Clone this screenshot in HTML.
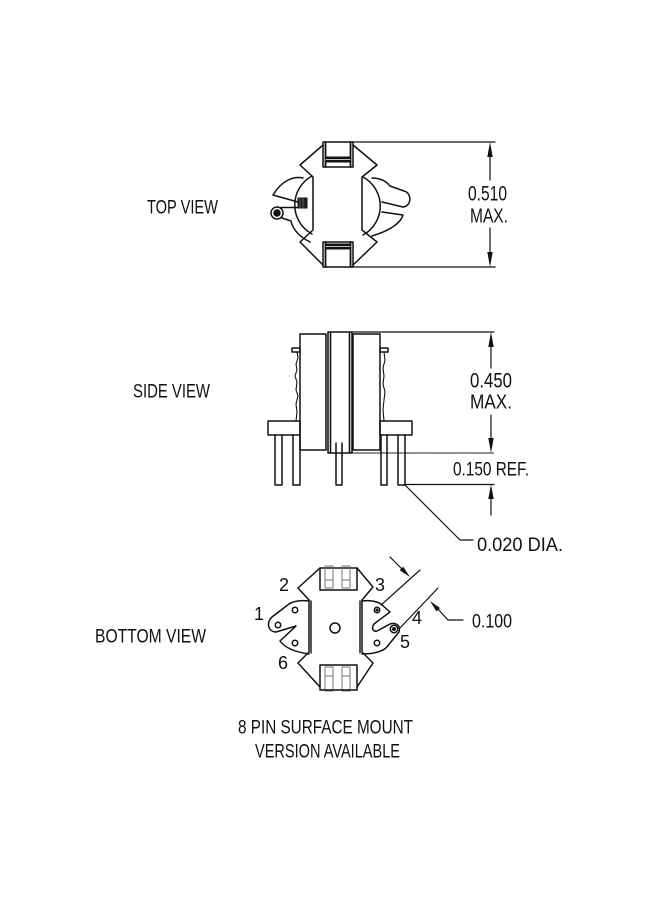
<!DOCTYPE html>
<html>
<head>
<meta charset="utf-8">
<style>
html,body{margin:0;padding:0;background:#fff;}
svg{display:block;}
text{font-family:"Liberation Sans",sans-serif;fill:#111;}
</style>
</head>
<body>
<svg width="650" height="900" viewBox="0 0 650 900" xmlns="http://www.w3.org/2000/svg">
<rect width="650" height="900" fill="#fff"/>
<g fill="none" stroke="#111" stroke-width="1.5" stroke-linejoin="round" stroke-linecap="round">

<!-- ================= TOP VIEW ================= -->
<path d="M323,145 L300,165 L313,177 L313,230 L300,242 L323,265"/>
<path d="M353,145 L377,165 L362,177 L362,230 L377,242 L353,265"/>
<rect x="323" y="142" width="30" height="25"/>
<line x1="325.5" y1="142" x2="325.5" y2="167" stroke-width="1.8"/>
<line x1="350.5" y1="142" x2="350.5" y2="167" stroke-width="1.8"/>
<rect x="325" y="156.5" width="26" height="6" fill="#111" stroke="none"/>
<line x1="326" y1="159.5" x2="350" y2="159.5" stroke="#fff" stroke-width="0.8"/>
<rect x="323" y="242" width="30" height="25"/>
<line x1="325.5" y1="242" x2="325.5" y2="267" stroke-width="1.8"/>
<line x1="350.5" y1="242" x2="350.5" y2="267" stroke-width="1.8"/>
<rect x="325" y="243.5" width="26" height="6" fill="#111" stroke="none"/>
<line x1="326" y1="246.5" x2="350" y2="246.5" stroke="#fff" stroke-width="0.8"/>
<!-- left ear -->
<path d="M312,176 A33,33 0 0 0 312,234"/>
<path d="M303,178 C294,176 282,180 273,195 L298,202"/>
<rect x="298" y="198" width="9" height="10" fill="#222" stroke-width="1"/>
<line x1="300" y1="198" x2="300" y2="208" stroke="#888" stroke-width="0.6"/>
<line x1="303" y1="198" x2="303" y2="208" stroke="#888" stroke-width="0.6"/>
<circle cx="277" cy="213" r="6"/>
<circle cx="277" cy="213" r="3" fill="#111"/>
<line x1="281" y1="207.5" x2="298" y2="207.5"/>
<path d="M282,218 L291,221 C293,230 300,237 310,242"/>
<!-- right ear -->
<path d="M363,177 A33,33 0 0 1 363,235"/>
<path d="M372,178 C380,178 386,181 390,186 L404,191 C412,193 412,206 403,207 L382,202"/>
<path d="M382,212 L403,215 C401,222 392,230 372,236"/>
<!-- dimension 0.510 -->
<line x1="353" y1="142" x2="495" y2="142" stroke-width="1.2"/>
<line x1="353" y1="267" x2="495" y2="267" stroke-width="1.2"/>
<line x1="490" y1="150" x2="490" y2="180" stroke-width="1.2"/>
<line x1="490" y1="228" x2="490" y2="259" stroke-width="1.2"/>

<!-- ================= SIDE VIEW ================= -->
<rect x="328" y="332" width="24" height="121"/>
<line x1="330.5" y1="332" x2="330.5" y2="453" stroke-width="1.6"/>
<line x1="349.5" y1="332" x2="349.5" y2="453" stroke-width="1.6"/>
<rect x="300" y="334" width="26" height="116"/>
<rect x="353" y="334" width="27" height="116"/>
<rect x="292" y="348" width="8" height="4"/>
<rect x="380" y="348" width="8" height="4"/>
<polyline points="297,352 298,358 296,364 297,370 295,376 297,382 296,390 298,396 296,404 297,412 296,421" stroke-width="1.1"/>
<polyline points="384,352 385,360 383,368 384,376 383,384 385,392 384,400 383,410 384,421" stroke-width="1.1"/>
<rect x="268" y="421" width="32" height="14"/>
<rect x="380" y="421" width="32" height="14"/>
<path d="M275,435 L275,485 L282,485 L282,435"/>
<path d="M293,435 L293,485 L300,485 L300,435"/>
<path d="M381,435 L381,485 L387,485 L387,435"/>
<path d="M398,435 L398,485 L405,485 L405,435"/>
<path d="M336,443 L336,485 L342,485 L342,443"/>
<line x1="352" y1="332" x2="494" y2="332" stroke-width="1.2"/>
<line x1="352" y1="453" x2="494" y2="453" stroke-width="1.1" stroke-dasharray="1.5,1"/>
<line x1="405" y1="484.5" x2="494" y2="484.5" stroke-width="1.2"/>
<line x1="491" y1="340" x2="491" y2="368" stroke-width="1.2"/>
<line x1="491" y1="415" x2="491" y2="445" stroke-width="1.2"/>
<line x1="491" y1="492" x2="491" y2="515" stroke-width="1.2"/>
<polyline points="405,485 460,540 473,540" stroke-width="1.2"/>

<!-- ================= BOTTOM VIEW ================= -->
<path d="M320,568 L298,588 L309,600 L309,652 L298,663 L320,687"/>
<path d="M357,568 L373,587 L362,600 L362,652 L373,663 L357,687"/>
<line x1="311" y1="601" x2="311" y2="653" stroke-width="1.4"/>
<line x1="360" y1="601" x2="360" y2="653" stroke-width="1.4"/>
<rect x="320" y="568" width="37" height="22"/>
<g stroke="#777" stroke-width="1">
<rect x="325" y="566" width="8" height="22"/>
<rect x="342" y="566" width="8" height="22"/>
<line x1="325" y1="580" x2="333" y2="580"/>
<line x1="342" y1="580" x2="350" y2="580"/>
<rect x="325" y="667" width="8" height="24"/>
<rect x="342" y="667" width="8" height="24"/>
<line x1="325" y1="676" x2="333" y2="676"/>
<line x1="342" y1="676" x2="350" y2="676"/>
</g>
<rect x="320" y="665" width="37" height="25"/>
<circle cx="335" cy="628" r="5"/>
<path d="M309,601 C300,600 294,601 289,604 L272,617 C266,622 268,632 276,632 L296,626 L280,641 C285,648 295,652 309,654"/>
<circle cx="295" cy="610" r="2.7"/>
<circle cx="278" cy="625" r="2.7"/>
<circle cx="295" cy="643" r="2.7"/>
<path d="M362,601 C370,600 376,601 381,604 L390,612 L374,624 C371,628 373,632 377,631 L390,624 C395,622 401,625 399,632 L386,648 C381,652 372,654 362,654"/>
<circle cx="377" cy="610" r="2.7"/>
<circle cx="377" cy="610" r="0.8" fill="#111"/>
<circle cx="394" cy="629" r="3.7"/>
<circle cx="394" cy="629" r="1.2" fill="#111"/>
<circle cx="377" cy="643" r="2.7"/>
<line x1="381" y1="605" x2="420" y2="570" stroke-width="1.2"/>
<line x1="400" y1="628" x2="438" y2="588" stroke-width="1.2"/>
<line x1="390" y1="557" x2="402" y2="569" stroke-width="1.2"/>
<polyline points="437,608 448,620 463,620" stroke-width="1.2"/>
</g>

<g fill="#111" stroke="none">
<polygon points="490,142 487.3,157 492.7,157"/>
<polygon points="490,267 487.3,252 492.7,252"/>
<polygon points="491,332 488.3,347 493.7,347"/>
<polygon points="491,453 488.3,438 493.7,438"/>
<polygon points="491,484.5 488.3,499 493.7,499"/>
<polygon points="410,577 399.7,570.3 403.3,566.7"/>
<polygon points="430,601 440.0,608.0 436.4,611.4"/>
</g>

<text x="147" y="213.5" font-size="19" textLength="71" lengthAdjust="spacingAndGlyphs">TOP VIEW</text>
<text x="133" y="397.5" font-size="19" textLength="77" lengthAdjust="spacingAndGlyphs">SIDE VIEW</text>
<text x="95" y="642.5" font-size="19" textLength="111" lengthAdjust="spacingAndGlyphs">BOTTOM VIEW</text>

<text x="468" y="200.5" font-size="21" textLength="39" lengthAdjust="spacingAndGlyphs">0.510</text>
<text x="470" y="222.5" font-size="20" textLength="38" lengthAdjust="spacingAndGlyphs">MAX.</text>
<text x="470" y="387.5" font-size="21" textLength="42" lengthAdjust="spacingAndGlyphs">0.450</text>
<text x="470" y="408.5" font-size="20" textLength="42" lengthAdjust="spacingAndGlyphs">MAX.</text>
<text x="453" y="475.5" font-size="19" textLength="76" lengthAdjust="spacingAndGlyphs">0.150 REF.</text>
<text x="477" y="551" font-size="19" textLength="86" lengthAdjust="spacingAndGlyphs">0.020 DIA.</text>
<text x="472" y="627.5" font-size="19" textLength="40" lengthAdjust="spacingAndGlyphs">0.100</text>

<text x="279" y="591" font-size="18">2</text>
<text x="375" y="591" font-size="18">3</text>
<text x="254" y="620" font-size="18">1</text>
<text x="412" y="624" font-size="18">4</text>
<text x="400" y="648" font-size="18">5</text>
<text x="278" y="669" font-size="18">6</text>

<text x="238" y="733.5" font-size="19" textLength="175" lengthAdjust="spacingAndGlyphs">8 PIN SURFACE MOUNT</text>
<text x="255" y="757.5" font-size="19" textLength="145" lengthAdjust="spacingAndGlyphs">VERSION AVAILABLE</text>
</svg>
</body>
</html>
